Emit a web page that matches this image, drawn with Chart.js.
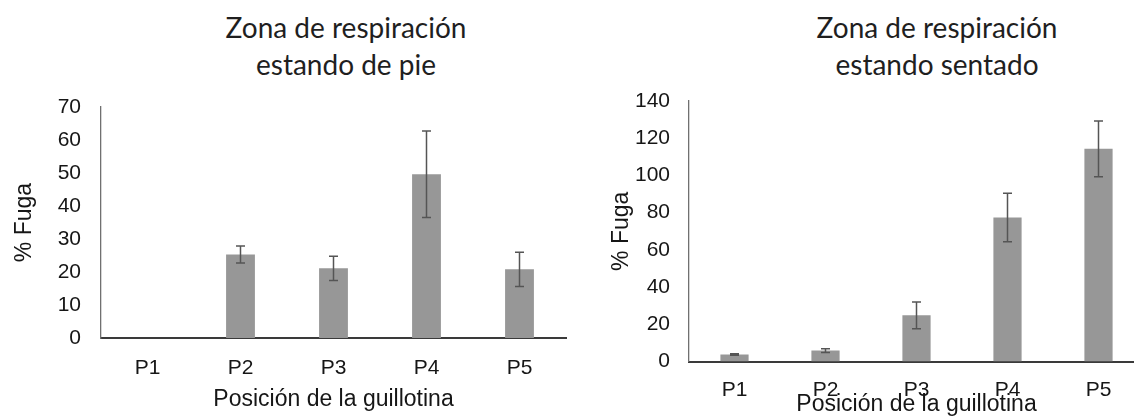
<!DOCTYPE html>
<html>
<head>
<meta charset="utf-8">
<script src="https://cdn.jsdelivr.net/npm/chart.js@4/dist/chart.umd.min.js"></script>
<style>
  html, body { margin: 0; padding: 0; background: #fff; }
  body { position: relative; width: 1134px; height: 417px; overflow: hidden; }
  canvas { position: absolute; top: 0; }
  #c1 { left: 0; }
  #c2 { left: 580px; }
  .title {
    position: absolute; width: 420px; text-align: center;
    font-family: Lato, "Open Sans", sans-serif; font-size: 28px; line-height: 37px;
    color: #1f1f1f; white-space: nowrap;
  }
</style>
</head>
<body>
<div class="title" id="t1"></div>
<div class="title" id="t2"></div>
<canvas id="c1" width="580" height="417"></canvas>
<canvas id="c2" width="580" height="417"></canvas>
<script>
// ---- data ----
const categories = ['P1', 'P2', 'P3', 'P4', 'P5'];
const standingValues = [0, 25.3, 21.1, 49.6, 20.8];
const standingErrors = [0, 2.6, 3.7, 13.1, 5.2];
const seatedValues = [3.8, 5.9, 24.8, 77.4, 114.3];
const seatedErrors = [0.4, 1.0, 7.2, 13.0, 15.0];
const standingTitle = ['Zona de respiración', 'estando de pie'];
const seatedTitle = ['Zona de respiración', 'estando sentado'];
const yAxisTitle = '% Fuga';
const xAxisTitle = 'Posición de la guillotina';
const standingYMax = 70, standingYStep = 10;
const seatedYMax = 140, seatedYStep = 20;

// ---- titles (HTML text) ----
function setTitle(id, lines, centerX, top) {
  const el = document.getElementById(id);
  el.innerHTML = lines.map(l => '<div>' + l + '</div>').join('');
  el.style.left = (centerX - 210) + 'px';
  el.style.top = top + 'px';
}
setTitle('t1', standingTitle, 346, 9);
setTitle('t2', seatedTitle, 937, 9);

const TEXT = '#161616';
const BAR = '#979797';
const ERR = '#555555';
const FONT = '"Liberation Sans", Arial, sans-serif';

const errorBarPlugin = {
  id: 'errorBars',
  afterDatasetsDraw(chart) {
    const errs = chart.options.plugins.errorBars.errors;
    const vals = chart.data.datasets[0].data;
    const meta = chart.getDatasetMeta(0);
    const y = chart.scales.y;
    const ctx = chart.ctx;
    ctx.save();
    ctx.strokeStyle = ERR;
    ctx.lineWidth = 1.5;
    meta.data.forEach((bar, i) => {
      const e = errs[i];
      if (!e) return;
      const yTop = y.getPixelForValue(vals[i] + e);
      const yBot = y.getPixelForValue(vals[i] - e);
      const x = bar.x;
      const cap = 4.5;
      ctx.beginPath();
      ctx.moveTo(x, yTop); ctx.lineTo(x, yBot);
      ctx.moveTo(x - cap, yTop); ctx.lineTo(x + cap, yTop);
      ctx.moveTo(x - cap, yBot); ctx.lineTo(x + cap, yBot);
      ctx.stroke();
    });
    ctx.restore();
  }
};

function makeChart(id, values, errors, yMax, yStep, geo) {
  return new Chart(document.getElementById(id), {
    type: 'bar',
    data: {
      labels: categories,
      datasets: [{
        data: values,
        backgroundColor: BAR,
        borderWidth: 0,
        categoryPercentage: 1,
        barPercentage: 0.31
      }]
    },
    options: {
      responsive: false,
      animation: false,
      devicePixelRatio: 1,
      layout: { padding: { top: geo.top, right: geo.right, bottom: 0, left: 0 } },
      plugins: {
        legend: { display: false },
        tooltip: { enabled: false },
        title: { display: false },
        errorBars: { errors: errors }
      },
      scales: {
        x: {
          grid: { display: false, drawTicks: false },
          border: { display: true, color: '#3a3a3a', width: 2 },
          ticks: {
            color: TEXT, padding: geo.xTickPad,
            font: { family: FONT, size: 21 }
          },
          title: {
            display: true, text: xAxisTitle, color: TEXT,
            font: { family: FONT, size: 23, lineHeight: 1 },
            padding: { top: 0, bottom: geo.xTitlePad }
          },
          afterFit(scale) { scale.height = geo.xHeight; }
        },
        y: {
          min: 0, max: yMax,
          grid: { display: false, drawTicks: false },
          border: { display: true, color: '#707070', width: 1.3 },
          ticks: {
            stepSize: yStep, color: TEXT, padding: geo.yTickPad,
            font: { family: FONT, size: 21 }
          },
          title: {
            display: true, text: yAxisTitle, color: TEXT,
            font: { family: FONT, size: 23, lineHeight: 1 },
            padding: { top: geo.yTitlePad, bottom: 0 }
          },
          afterFit(scale) { scale.width = geo.yWidth; }
        }
      }
    },
    plugins: [errorBarPlugin]
  });
}

makeChart('c1', standingValues, standingErrors, standingYMax, standingYStep, {
  top: 107, right: 14, xHeight: 79, xTickPad: 17.5, xTitlePad: 5.5,
  yWidth: 101, yTickPad: 20, yTitlePad: 13
});
makeChart('c2', seatedValues, seatedErrors, seatedYMax, seatedYStep, {
  top: 101, right: 16, xHeight: 55.5, xTickPad: 16, xTitlePad: 0.5,
  yWidth: 109, yTickPad: 19, yTitlePad: 30.5
});
</script>
</body>
</html>
